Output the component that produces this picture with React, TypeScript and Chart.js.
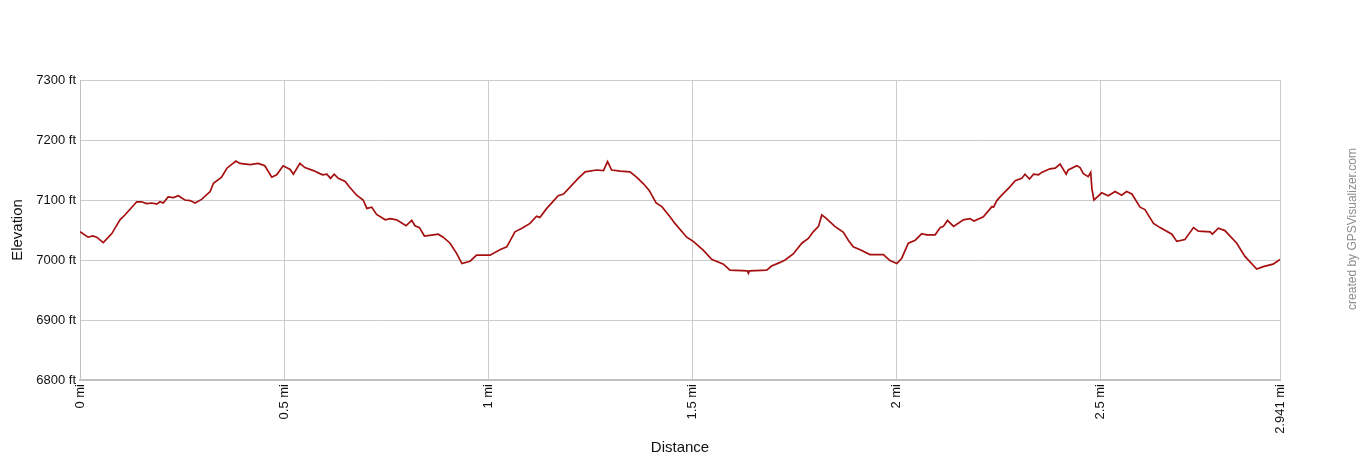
import React, { useEffect, useRef } from "react";
import { Chart, registerables } from "chart.js";

Chart.register(...registerables);

const distanceMi: number[] = [
  0, 0.02, 0.031, 0.041, 0.057, 0.078, 0.098, 0.11, 0.127, 0.139, 0.151, 0.163, 0.176, 0.188, 0.196, 0.204,
  0.216, 0.229, 0.241, 0.257, 0.27, 0.282, 0.298, 0.319, 0.327, 0.347, 0.36, 0.382, 0.392, 0.417, 0.437,
  0.453, 0.47, 0.482, 0.498, 0.515, 0.523, 0.539, 0.551, 0.572, 0.588, 0.595, 0.605, 0.614, 0.623, 0.633,
  0.65, 0.66, 0.678, 0.694, 0.703, 0.715, 0.727, 0.748, 0.76, 0.776, 0.799, 0.813, 0.821, 0.832, 0.844,
  0.866, 0.878, 0.89, 0.907, 0.923, 0.936, 0.956, 0.972, 1.005, 1.029, 1.046, 1.066, 1.083, 1.103, 1.119,
  1.127, 1.144, 1.172, 1.185, 1.221, 1.238, 1.266, 1.283, 1.293, 1.303, 1.324, 1.348, 1.364, 1.381, 1.395,
  1.412, 1.426, 1.446, 1.458, 1.487, 1.503, 1.528, 1.548, 1.577, 1.593, 1.636, 1.638, 1.641, 1.683, 1.695,
  1.716, 1.728, 1.748, 1.769, 1.785, 1.797, 1.81, 1.818, 1.826, 1.85, 1.871, 1.883, 1.895, 1.912, 1.936,
  1.969, 1.985, 2.002, 2.014, 2.03, 2.047, 2.063, 2.075, 2.096, 2.108, 2.116, 2.126, 2.141, 2.165, 2.181,
  2.191, 2.214, 2.235, 2.239, 2.247, 2.259, 2.279, 2.292, 2.308, 2.316, 2.327, 2.337, 2.349, 2.357, 2.377,
  2.39, 2.402, 2.417, 2.422, 2.443, 2.451, 2.459, 2.471, 2.477, 2.48, 2.485, 2.504, 2.52, 2.537, 2.553,
  2.565, 2.578, 2.598, 2.61, 2.631, 2.647, 2.676, 2.688, 2.708, 2.729, 2.741, 2.77, 2.775, 2.79, 2.806,
  2.835, 2.855, 2.884, 2.9, 2.924, 2.941,
];

const elevationFt: number[] = [
  7047, 7038, 7040, 7038, 7029, 7044, 7067, 7075, 7088, 7097, 7097, 7094, 7095, 7093, 7097, 7095,
  7105, 7104, 7107, 7100, 7099, 7095, 7101, 7114, 7128, 7138, 7153, 7165, 7161, 7159, 7161,
  7157, 7138, 7142, 7157, 7151, 7143, 7161, 7154, 7149, 7144, 7142, 7143, 7136, 7143, 7136,
  7131, 7122, 7108, 7100, 7086, 7088, 7076, 7067, 7069, 7067, 7057, 7066, 7057, 7054, 7040,
  7042, 7043, 7038, 7028, 7011, 6994, 6998, 7008, 7008, 7017, 7022, 7047, 7053, 7061, 7073,
  7071, 7086, 7107, 7110, 7136, 7147, 7150, 7149, 7164, 7150, 7148, 7147, 7138, 7127, 7116,
  7095, 7089, 7072, 7061, 7038, 7031, 7016, 7001, 6993, 6983, 6982, 6978, 6982, 6983, 6990,
  6996, 7000, 7010, 7028, 7036, 7047, 7056, 7075, 7071, 7056, 7046, 7033, 7022, 7017, 7009,
  7009, 6999, 6994, 7003, 7028, 7033, 7044, 7042, 7042, 7054, 7056, 7066, 7056, 7067, 7069,
  7065, 7072, 7089, 7088, 7099, 7108, 7122, 7132, 7136, 7143, 7135, 7143, 7142, 7146, 7152,
  7153, 7160, 7143, 7150, 7157, 7154, 7144, 7139, 7146, 7119, 7100, 7112, 7107, 7114, 7108,
  7114, 7110, 7088, 7084, 7061, 7054, 7043, 7031, 7034, 7054, 7048, 7047, 7043, 7053, 7049,
  7028, 7006, 6985, 6989, 6993, 7001,
];

const xTickValues: number[] = [0, 0.5, 1, 1.5, 2, 2.5, 2.941];
const xTickLabels: string[] = ["0 mi", "0.5 mi", "1 mi", "1.5 mi", "2 mi", "2.5 mi", "2.941 mi"];
const yMin = 6800;
const yMax = 7300;
const yStep = 100;
const yUnit = " ft";
const xTitle = "Distance";
const yTitle = "Elevation";
const creditText = "created by GPSVisualizer.com";

const FONT = "'Liberation Sans', Arial, sans-serif";

const creditPlugin = {
  id: "credit",
  afterDraw(chart: any) {
    const ctx = chart.ctx;
    ctx.save();
    ctx.translate(1353, 229);
    ctx.rotate(-Math.PI / 2);
    ctx.font = `12px ${FONT}`;
    ctx.fillStyle = "#8c8c8c";
    ctx.textAlign = "center";
    ctx.textBaseline = "middle";
    ctx.fillText(creditText, 0, 0);
    ctx.restore();
  },
};

export default function App() {
  const ref = useRef<HTMLCanvasElement | null>(null);

  useEffect(() => {
    if (!ref.current) return;
    const points = distanceMi.map((d, i) => ({ x: d, y: elevationFt[i] }));
    const chart = new Chart(ref.current, {
      type: "line",
      data: {
        datasets: [
          {
            data: points,
            borderColor: "#a50f0f",
            borderWidth: 1.7,
            pointRadius: 0,
            tension: 0,
            fill: false,
          },
        ],
      },
      options: {
        animation: false,
        responsive: false,
        maintainAspectRatio: false,
        devicePixelRatio: 1,
        layout: { padding: { top: 80, right: 80, left: 0, bottom: 0 } },
        plugins: { legend: { display: false }, tooltip: { enabled: false } },
        scales: {
          x: {
            type: "linear",
            min: 0,
            max: xTickValues[xTickValues.length - 1],
            afterBuildTicks: (s: any) => {
              s.ticks = xTickValues.map((v) => ({ value: v }));
            },
            afterFit: (s: any) => {
              s.height = 80;
            },
            ticks: {
              autoSkip: false,
              maxRotation: 90,
              minRotation: 90,
              padding: 4,
              color: "#111",
              font: { family: FONT, size: 13 },
              callback: (_v: any, i: number) => xTickLabels[i],
            },
            grid: { color: "#cccccc", lineWidth: 1, drawTicks: false },
            border: { color: "#c0c0c0", width: 2 },
            title: {
              display: true,
              text: xTitle,
              color: "#111",
              font: { family: FONT, size: 15 },
              padding: { top: 0, bottom: 3 },
            },
          },
          y: {
            min: yMin,
            max: yMax,
            afterFit: (s: any) => {
              s.width = 80;
            },
            ticks: {
              stepSize: yStep,
              padding: 4,
              color: "#111",
              font: { family: FONT, size: 13 },
              callback: (v: any) => `${v}${yUnit}`,
            },
            grid: { color: "#cccccc", lineWidth: 1, drawTicks: false },
            border: { color: "#c0c0c0", width: 1 },
            title: {
              display: true,
              text: yTitle,
              color: "#111",
              font: { family: FONT, size: 15 },
              padding: { top: 9, bottom: 0 },
            },
          },
        },
      },
      plugins: [creditPlugin],
    });
    return () => chart.destroy();
  }, []);

  return (
    <div style={{ position: "fixed", left: 0, top: 0, width: 1360, height: 460, background: "#fff" }}>
      <canvas ref={ref} width={1360} height={460} style={{ display: "block" }} />
    </div>
  );
}
